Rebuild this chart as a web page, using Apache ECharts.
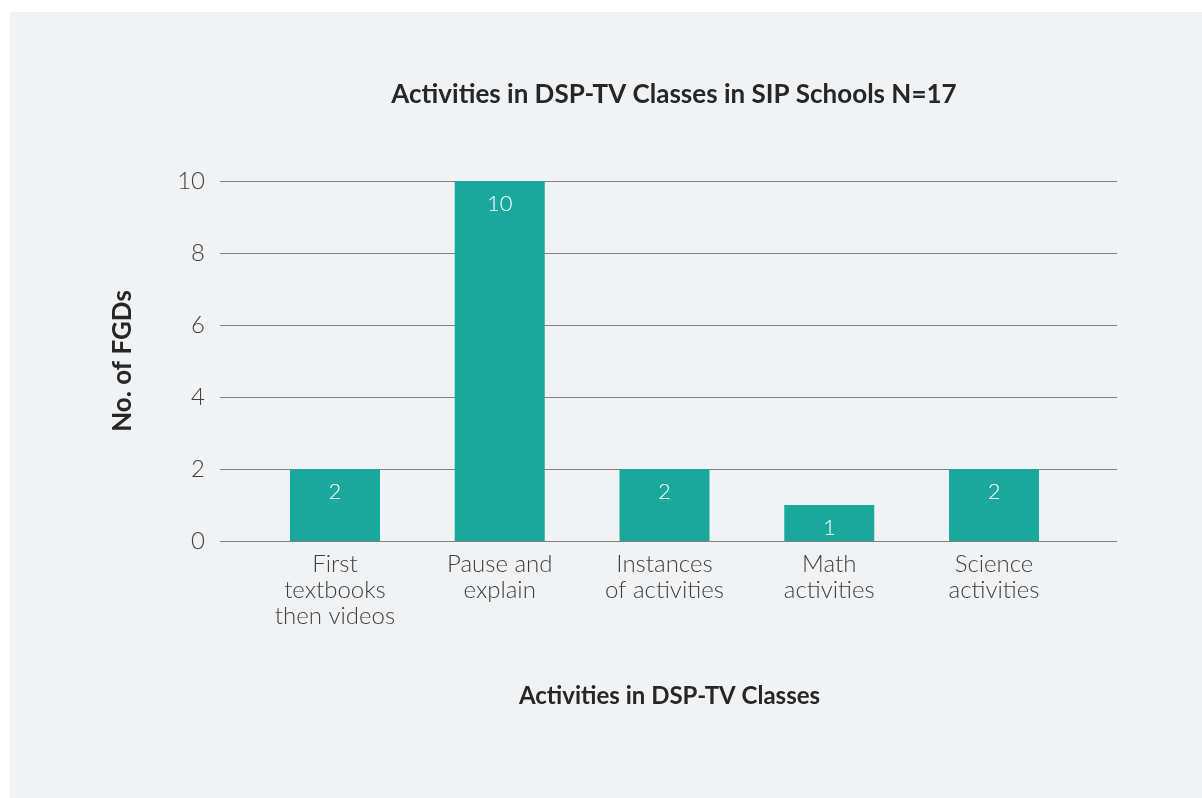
<!DOCTYPE html>
<html>
<head>
<meta charset="utf-8">
<title>Activities in DSP-TV Classes</title>
<script src="https://cdn.jsdelivr.net/npm/echarts@6/dist/echarts.min.js"></script>
<style>
  html, body { margin: 0; padding: 0; background: #ffffff; }
  #chart { width: 1202px; height: 798px; }
</style>
</head>
<body>
<div id="chart"></div>
<script>
// Focus-group counts per activity type
const categories = [
  'First\ntextbooks\nthen videos',
  'Pause and\nexplain',
  'Instances\nof activities',
  'Math\nactivities',
  'Science\nactivities'
];
const fgdCounts = [2, 10, 2, 1, 2];
const yTicks = [0, 2, 4, 6, 8, 10];

const FONT = 'Lato, "Noto Sans", sans-serif';
const TEXT = '#404040';
const DARK = '#262626';

const chart = echarts.init(document.getElementById('chart'), null, { renderer: 'canvas' });

chart.setOption({
  backgroundColor: '#ffffff',
  animation: false,
  textStyle: { fontFamily: FONT },
  graphic: [{
    type: 'rect',
    z: -10,
    shape: { x: 10, y: 12, width: 1192, height: 786 },
    style: { fill: '#f1f2f4' },
    silent: true
  }],
  title: {
    text: 'Activities in DSP-TV Classes in SIP Schools N=17',
    left: 669,
    top: 77,
    textAlign: 'center',
    textStyle: { fontFamily: FONT, fontSize: 26, fontWeight: 'bold', color: DARK }
  },
  grid: [
    // value scale with gridlines spanning the full plot width
    { left: 220, right: 85, top: 181, bottom: 257 },
    // category bands for the bars
    { left: 252.6, right: 125.6, top: 181, bottom: 257 }
  ],
  xAxis: [
    { gridIndex: 0, type: 'value', show: false, min: 0, max: 1 },
    {
      gridIndex: 1,
      type: 'category',
      data: categories,
      name: 'Activities in DSP-TV Classes',
      nameLocation: 'middle',
      nameGap: 143,
      nameTextStyle: {
        fontFamily: FONT, fontSize: 24, fontWeight: 'bold', color: DARK,
        padding: [0, 0, 0, 10]
      },
      axisLine: { show: false },
      axisTick: { show: false },
      axisLabel: {
        interval: 0,
        margin: 10,
        fontFamily: FONT,
        fontSize: 24,
        fontWeight: 300,
        lineHeight: 26,
        color: TEXT
      }
    }
  ],
  yAxis: [
    {
      gridIndex: 0,
      type: 'value',
      min: yTicks[0],
      max: yTicks[yTicks.length - 1],
      interval: 2,
      name: 'No. of FGDs',
      nameLocation: 'middle',
      nameGap: 84,
      nameRotate: 90,
      nameTextStyle: { fontFamily: FONT, fontSize: 26, fontWeight: 'bold', color: DARK },
      axisLine: { show: false },
      axisTick: { show: false },
      axisLabel: { margin: 15, fontFamily: FONT, fontSize: 24, fontWeight: 300, color: TEXT },
      splitLine: { lineStyle: { color: '#808080', width: 1.2 } }
    },
    {
      gridIndex: 1,
      type: 'value',
      min: yTicks[0],
      max: yTicks[yTicks.length - 1],
      show: false,
      splitLine: { show: false }
    }
  ],
  series: [{
    type: 'bar',
    xAxisIndex: 1,
    yAxisIndex: 1,
    data: fgdCounts,
    barWidth: 90,
    itemStyle: { color: '#1aa89d' },
    label: {
      show: true,
      position: 'insideTop',
      distance: 12,
      fontFamily: FONT,
      fontSize: 22,
      fontWeight: 300,
      color: '#ffffff'
    }
  }]
});
</script>
</body>
</html>
